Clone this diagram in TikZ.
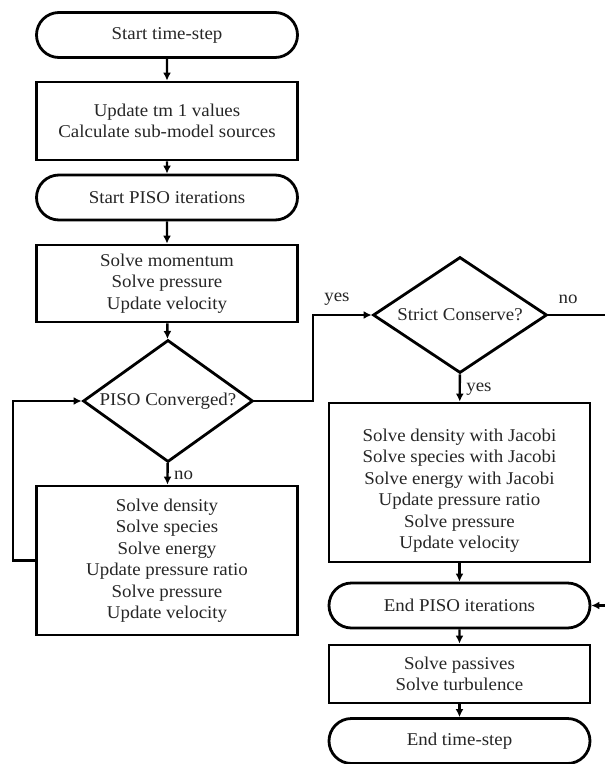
\documentclass[tikz,border=0pt]{standalone}
\usepackage{fontspec}
\setmainfont[FakeStretch=1.05]{Liberation Serif}
\usetikzlibrary{shapes.misc,shapes.geometric,arrows.meta}
\begin{document}
\begin{tikzpicture}[x=1pt,y=-1pt,
  every node/.style={font=\fontsize{18}{21.5}\selectfont, text=black!85},
  stadium/.style={draw, line width=2.8pt, rounded rectangle, minimum width=261pt, minimum height=45pt, inner sep=0pt},
  procbox/.style={draw, line width=2.8pt, rectangle, minimum width=261pt, inner sep=0pt, align=center},
  decision/.style={draw, line width=2.8pt, diamond, inner sep=0pt},
  arr/.style={line width=2.4pt, -{Latex[length=8pt,width=8pt]}},
  lbl/.style={font=\fontsize{18}{20}\selectfont}
]
\clip (0,0) rectangle (605,764);
\fill[white] (0,0) rectangle (605,764);
\node[stadium] (st) at (167,35) {Start time-step};
\node[procbox, minimum height=78pt] (upd) at (167,121) {Update tm 1 values\\Calculate sub-model sources};
\node[stadium] (sp) at (167,197.5) {Start PISO iterations};
\node[procbox, minimum height=77pt] (mom) at (167,283.5) {Solve momentum\\Solve pressure\\Update velocity};
\node[decision, minimum width=170pt, minimum height=122pt] (pc) at (168,401) {\makebox[0pt]{PISO Converged?}};
\node[procbox, minimum height=149pt] (blk) at (167,560.5) {Solve density\\Solve species\\Solve energy\\Update pressure ratio\\Solve pressure\\Update velocity};
\node[decision, minimum width=174pt, minimum height=116pt] (sc) at (460,315) {\makebox[0pt]{Strict Conserve?}};
\node[procbox, minimum height=159pt] (jac) at (459.5,482.5) {\raisebox{-12.5pt}[0pt][0pt]{\begin{tabular}{@{}c@{}}Solve density with Jacobi\\Solve species with Jacobi\\Solve energy with Jacobi\\Update pressure ratio\\Solve pressure\\Update velocity\end{tabular}}};
\node[stadium] (ep) at (459.5,605.5) {End PISO iterations};
\node[procbox, minimum height=58pt] (pas) at (459.5,674) {Solve passives\\Solve turbulence};
\node[stadium] (et) at (459.5,741) {End time-step};
\coordinate (lx) at (13,0);
\coordinate (mx) at (313,0);
\coordinate (rx) at (608,0);
\draw[arr] (st) -- (upd);
\draw[arr] (upd) -- (sp);
\draw[arr] (sp) -- (mom);
\draw[arr] (mom) -- (pc);
\draw[arr] (pc) -- node[lbl, right, pos=0.55, xshift=2pt] {no} (blk);
\draw[arr] (blk.west) -- (blk.west -| lx) |- (pc.west);
\draw[arr] (pc.east) -- (pc.east -| mx) |- (sc.west);
\node[lbl] (yes1) at (337,299) {yes};
\draw[arr] (sc) -- node[lbl, right, pos=0.55, xshift=2pt] {yes} (jac);
\draw[arr] (sc.east) -- (sc.east -| rx) |- (ep.east);
\node[lbl] (no2) at (568,299) {no};
\draw[arr] (jac) -- (ep);
\draw[arr] (ep) -- (pas);
\draw[arr] (pas) -- (et);
\end{tikzpicture}
\end{document}
